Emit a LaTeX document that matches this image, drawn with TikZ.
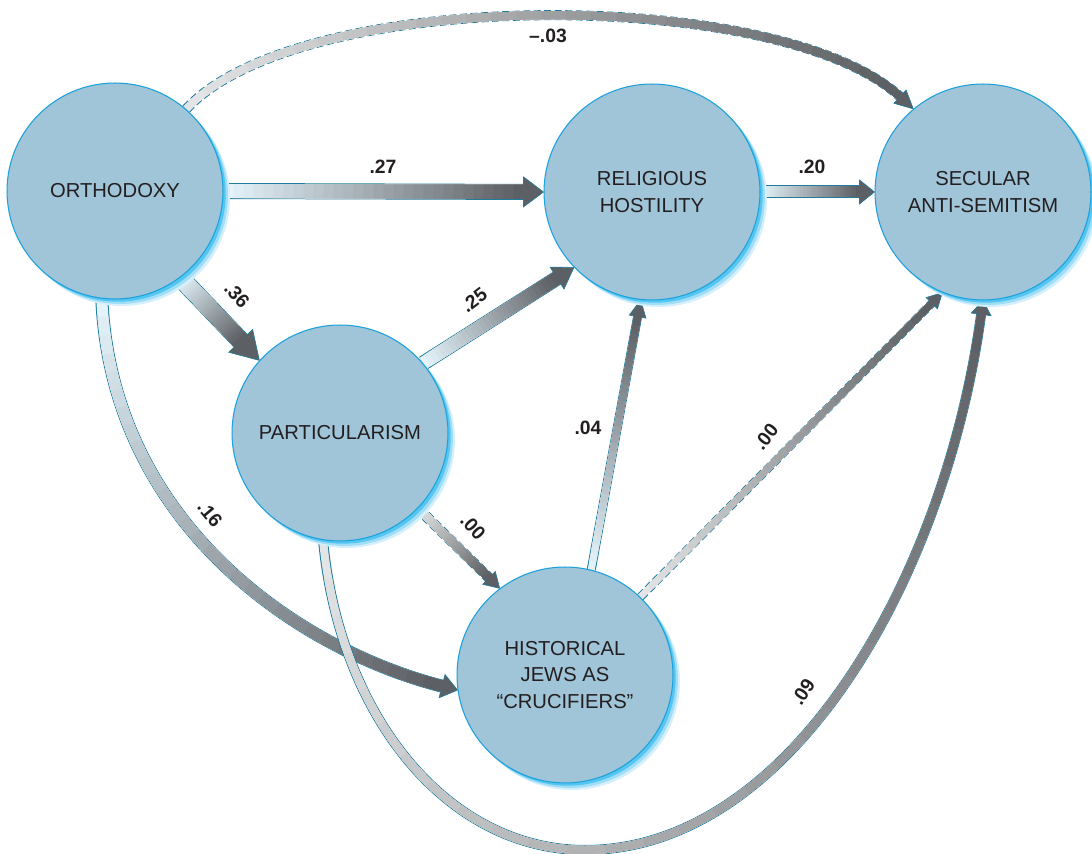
\documentclass[tikz,border=0pt]{standalone}
\usepackage{fontspec}
\setmainfont{Liberation Sans}
\usetikzlibrary{calc, backgrounds, shadows, decorations.markings}

\definecolor{nodefill}{HTML}{A0C4D8}
\definecolor{nodeline}{HTML}{1BA1DB}
\definecolor{glow}{HTML}{2BB6EE}
\definecolor{edgeline}{HTML}{1E7C9C}
\definecolor{shaftlight}{HTML}{E4F3FA}
\definecolor{shaftgrey}{HTML}{E3E4E5}
\definecolor{shaftdark}{HTML}{5C5F63}
\definecolor{inktext}{HTML}{231F20}

% shaft with a light-to-dark run along its length
\newcommand{\gradshaft}[4]{%
  \path[decorate, decoration={markings,
      mark=at position 0.5 with {\xdef\shaftlen{\pgfdecoratedpathlength}}}] #4;
  \draw[line width=#1+0.4mm, draw=edgeline, #3] #4;
  \foreach \k in {0,...,29}{%
    \pgfmathsetmacro\gap{\shaftlen/30*\k}%
    \pgfmathsetmacro\pct{100*\k/29}%
    \draw[line width=#1, draw=shaftdark!\pct!#2,
          dash pattern=on 0pt off \gap pt on 3000pt] #4;
  }%
}
% #1 shaft, #2 head width, #3 head length, #4 start colour, #5 outline,
% #6 tip, #7 aim point, #8 path up to the head
\newcommand{\pathlink}[8]{%
  \coordinate (hb) at ($(#6)!#3!(#7)$);
  \gradshaft{#1}{#4}{#5}{#8 (hb)}%
  \path[fill=shaftdark, draw=edgeline, line width=0.35pt, line join=miter]
    ($(hb)!#1/2!90:(#6)$) -- ($(hb)!#2/2!90:(#6)$) -- (#6)
    -- ($(hb)!#2/2!-90:(#6)$) -- ($(hb)!#1/2!-90:(#6)$);
}

\begin{document}
\begin{tikzpicture}[x=0.02cm, y=-0.02cm,
  factor/.style={circle, minimum size=4.32cm, inner sep=0pt, align=center,
                 fill=nodefill, draw=nodeline, line width=0.6pt, text=inktext,
                 font=\fontsize{11.5}{15.3}\selectfont,
                 drop shadow={shadow xshift=1.4mm, shadow yshift=-1.4mm,
                              fill=glow!20, opacity=1},
                 drop shadow={shadow xshift=1.0mm, shadow yshift=-1.0mm,
                              fill=glow!45, opacity=1},
                 drop shadow={shadow xshift=0.55mm, shadow yshift=-0.55mm,
                              fill=glow!80, opacity=1}},
  coef/.style={font=\fontsize{11}{13}\selectfont\bfseries, text=inktext, inner sep=0.5pt},
  dashline/.style={dash pattern=on 1.4mm off 0.7mm},
]
\useasboundingbox (0,0) rectangle (1092,854);

%% ── Factors ─────────────────────────────────────────────────────────
\node[factor] (orth) at (115,191) {ORTHODOXY};
\node[factor] (rel)  at (652,192) {RELIGIOUS\\HOSTILITY};
\node[factor] (sec)  at (983,192) {SECULAR\\ANTI-SEMITISM};
\node[factor] (part) at (340,433) {PARTICULARISM};
\node[factor] (hist) at (565,675) {HISTORICAL\\JEWS AS\\“CRUCIFIERS”};

%% ── Paths ───────────────────────────────────────────────────────────
\begin{scope}[on background layer]
  \pathlink{2.8mm}{6mm}{4mm}{shaftlight}{}{rel.west}{orth.east}{(orth.east) --}
  \pathlink{2.2mm}{4.8mm}{3mm}{shaftlight}{}{sec.west}{rel.east}{(rel.east) --}
  \pathlink{3.4mm}{6.6mm}{5.4mm}{shaftlight}{}{part.138}{orth.-53}{(orth.-53) --}
  \pathlink{2.6mm}{5.2mm}{4mm}{shaftlight}{}{rel.-136}{part.40}{(part.40) --}
  \pathlink{1.7mm}{3.6mm}{3mm}{shaftgrey}{dashline}{hist.127}{part.-44}{(part.-44) --}
  \pathlink{1.4mm}{3.4mm}{3.4mm}{shaftlight}{}{rel.-96}{hist.76}{(hist.76) --}
  \pathlink{1.3mm}{3.2mm}{3mm}{shaftgrey}{dashline}{sec.-112}{hist.46}{(hist.46) --}
  % curved ones
  \pathlink{1.6mm}{3.6mm}{3.6mm}{shaftgrey}{dashline}{sec.130}{780,-14}
    {(orth.49) .. controls (300,-14) and (780,-14) ..}
  \pathlink{2.2mm}{4.8mm}{3.2mm}{shaftlight}{}{hist.-172}{300,650}
    {(orth.-97) .. controls (112,525) and (300,650) ..}
  \pathlink{1.6mm}{4mm}{2.8mm}{shaftgrey}{}{sec.-90}{945,580}
    {(part.-99) .. controls (340,720) and (450,850) .. (585,850)
     .. controls (790,850) and (945,580) ..}
\end{scope}

%% ── Coefficients ────────────────────────────────────────────────────
\node[coef] (c27) at (383,167) {.27};
\node[coef] (c20) at (812,167) {.20};
\node[coef] (c03) at (548,36) {–.03};
\node[coef, rotate=-48] (c36) at (237,295) {.36};
\node[coef, rotate=37] (c25) at (474,300) {.25};
\node[coef] (c04) at (588,428) {.04};
\node[coef, rotate=-48] (c00a) at (473,527) {.00};
\node[coef, rotate=52] (c00b) at (766,437) {.00};
\node[coef, rotate=-50] (c16) at (210,514) {.16};
\node[coef, rotate=57] (c09) at (803,692) {.09};

\end{tikzpicture}
\end{document}
